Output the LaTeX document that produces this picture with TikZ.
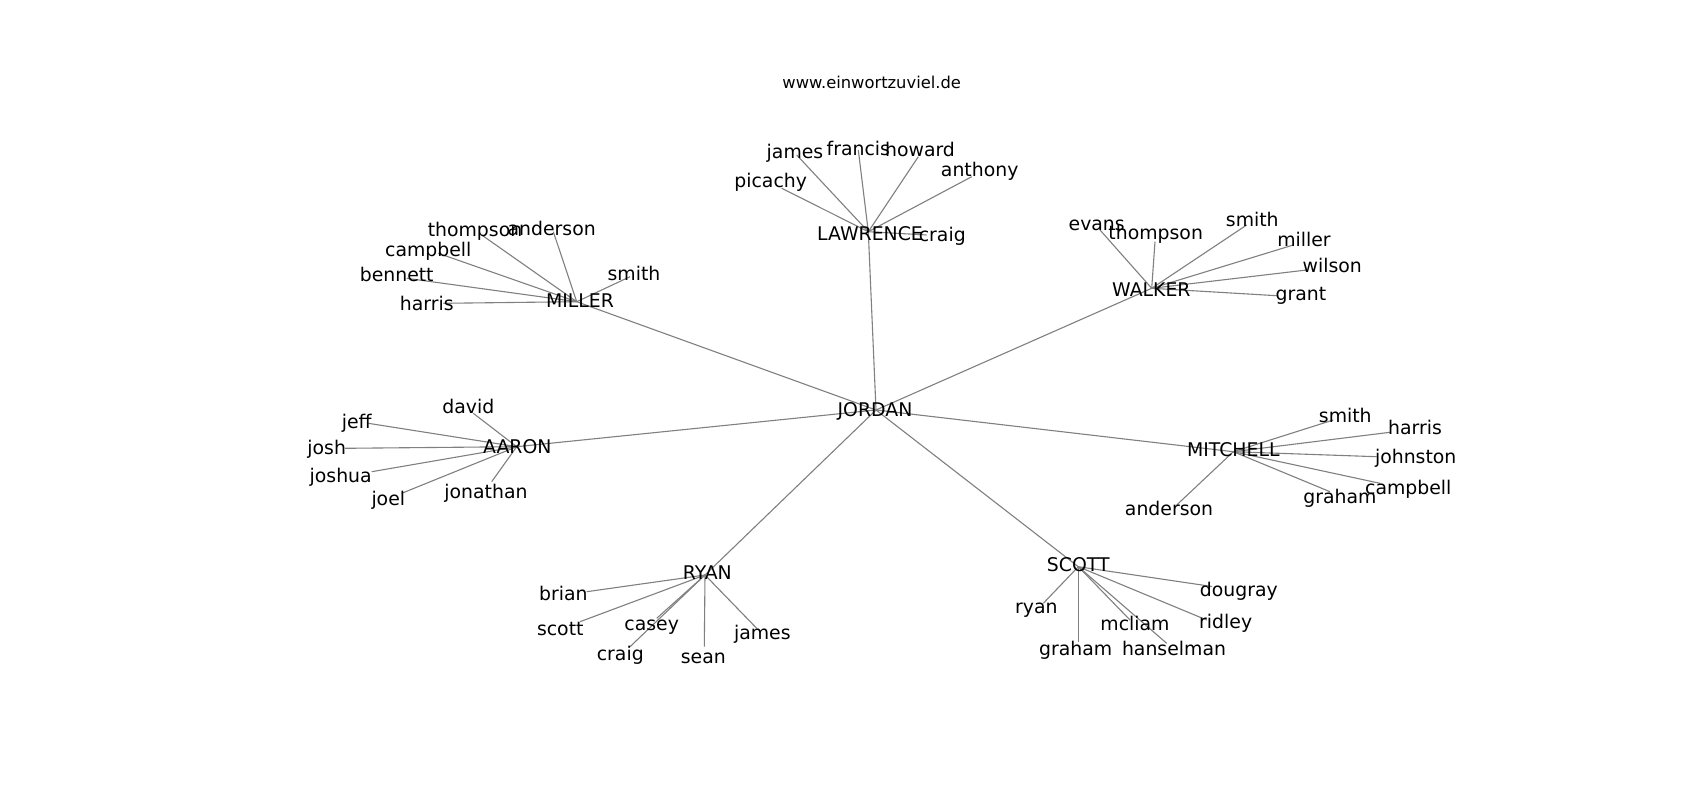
\documentclass[tikz,border=0pt]{standalone}
\usepackage{fontspec}
\setmainfont{DejaVu Sans}
\definecolor{edgegray}{RGB}{128,128,128}
\tikzset{
  lbl/.style={anchor=base, inner sep=0pt, text=black, font=\fontsize{18.85}{22}\selectfont},
  ttl/.style={anchor=base, inner sep=0pt, text=black, font=\fontsize{16.33}{19}\selectfont},
  edge/.style={draw=edgegray, line width=1.1pt}
}
\begin{document}
\begin{tikzpicture}[x=1pt,y=-1pt]
\useasboundingbox[fill=white] (0,0) rectangle (1700,800);
% hubs
\coordinate (jordan) at (876,410);
\coordinate (miller) at (576.7,301.7);
\coordinate (lawrence) at (868.3,231.7);
\coordinate (walker) at (1151.7,288.3);
\coordinate (aaron) at (516.7,446.7);
\coordinate (mitchell) at (1233.3,451.7);
\coordinate (ryan) at (705,575);
\coordinate (scott) at (1078.3,566.7);
% leaves
\coordinate (mi-thompson) at (481.7,235);
\coordinate (mi-anderson) at (553.3,231.7);
\coordinate (mi-campbell) at (438.3,253.3);
\coordinate (mi-bennett) at (406.7,278.3);
\coordinate (mi-harris) at (443.3,303.3);
\coordinate (mi-smith) at (630,276.7);
\coordinate (la-james) at (796.7,155);
\coordinate (la-francis) at (858.3,150);
\coordinate (la-howard) at (918.3,156.7);
\coordinate (la-anthony) at (971.7,176.7);
\coordinate (la-picachy) at (781.7,188.3);
\coordinate (la-craig) at (926.7,235);
\coordinate (wa-evans) at (1100,230);
\coordinate (wa-thompson) at (1155,241.7);
\coordinate (wa-smith) at (1246.7,225);
\coordinate (wa-miller) at (1293.3,245);
\coordinate (wa-wilson) at (1306.7,270);
\coordinate (wa-grant) at (1276.7,295.7);
\coordinate (aa-david) at (473.3,413.3);
\coordinate (aa-jeff) at (368.3,423.3);
\coordinate (aa-josh) at (345,448.3);
\coordinate (aa-joshua) at (371.7,471.7);
\coordinate (aa-joel) at (401.7,493.3);
\coordinate (aa-jonathan) at (491.7,481.7);
\coordinate (mt-smith) at (1333.3,420);
\coordinate (mt-harris) at (1390,432.3);
\coordinate (mt-johnston) at (1376.7,456.7);
\coordinate (mt-campbell) at (1380,483.3);
\coordinate (mt-graham) at (1330,491.7);
\coordinate (mt-anderson) at (1176.7,505);
\coordinate (ry-brian) at (586.7,591.7);
\coordinate (ry-scott) at (580,621.7);
\coordinate (ry-casey) at (656.7,618.3);
\coordinate (ry-craig) at (630,646.7);
\coordinate (ry-sean) at (704.3,646.7);
\coordinate (ry-james) at (756.7,628.3);
\coordinate (sc-dougray) at (1212,586.5);
\coordinate (sc-ryan) at (1043.3,603.3);
\coordinate (sc-mcliam) at (1130,620);
\coordinate (sc-ridley) at (1206.7,620);
\coordinate (sc-graham) at (1078.3,641.7);
\coordinate (sc-hanselman) at (1166.7,643.3);
% edges
\foreach \h in {miller,lawrence,walker,aaron,mitchell,ryan,scott}
  \draw[edge] (jordan) -- (\h);
\foreach \c in {thompson,anderson,campbell,bennett,harris,smith}
  \draw[edge] (miller) -- (mi-\c);
\foreach \c in {james,francis,howard,anthony,picachy,craig}
  \draw[edge] (lawrence) -- (la-\c);
\foreach \c in {evans,thompson,smith,miller,wilson,grant}
  \draw[edge] (walker) -- (wa-\c);
\foreach \c in {david,jeff,josh,joshua,joel,jonathan}
  \draw[edge] (aaron) -- (aa-\c);
\foreach \c in {smith,harris,johnston,campbell,graham,anderson}
  \draw[edge] (mitchell) -- (mt-\c);
\foreach \c in {brian,scott,casey,craig,sean,james}
  \draw[edge] (ryan) -- (ry-\c);
\foreach \c in {dougray,ryan,mcliam,ridley,graham,hanselman}
  \draw[edge] (scott) -- (sc-\c);
% title
\node[ttl] (title) at (871.7,88.3) {www.einwortzuviel.de};
% hub labels
\node[lbl] (l-jordan) at (875,416.7) {JORDAN};
\node[lbl] (l-miller) at (580,307.3) {MILLER};
\node[lbl] (l-lawrence) at (870,240) {LAWRENCE};
\node[lbl] (l-walker) at (1151.3,296.7) {WALKER};
\node[lbl] (l-aaron) at (517.3,453.3) {AARON};
\node[lbl] (l-mitchell) at (1233.3,456) {MITCHELL};
\node[lbl] (l-ryan) at (707.3,579.3) {RYAN};
\node[lbl] (l-scott) at (1078.3,571.7) {SCOTT};
% leaf labels
\node[lbl] (l-mi-thompson) at (475,236.7) {thompson};
\node[lbl] (l-mi-anderson) at (551.7,235) {anderson};
\node[lbl] (l-mi-campbell) at (428.3,256) {campbell};
\node[lbl] (l-mi-bennett) at (396.7,281.7) {bennett};
\node[lbl] (l-mi-harris) at (426.7,310) {harris};
\node[lbl] (l-mi-smith) at (634,280) {smith};
\node[lbl] (l-la-james) at (795,158.3) {james};
\node[lbl] (l-la-francis) at (858.3,155) {francis};
\node[lbl] (l-la-howard) at (920,156.7) {howard};
\node[lbl] (l-la-anthony) at (979.7,176.7) {anthony};
\node[lbl] (l-la-picachy) at (770.7,187.3) {picachy};
\node[lbl] (l-la-craig) at (942.3,241.7) {craig};
\node[lbl] (l-wa-evans) at (1096.7,230) {evans};
\node[lbl] (l-wa-thompson) at (1155.7,239.3) {thompson};
\node[lbl] (l-wa-smith) at (1252.3,226) {smith};
\node[lbl] (l-wa-miller) at (1304,246) {miller};
\node[lbl] (l-wa-wilson) at (1332.3,272.7) {wilson};
\node[lbl] (l-wa-grant) at (1301,300.7) {grant};
\node[lbl] (l-aa-david) at (468.3,413.3) {david};
\node[lbl] (l-aa-jeff) at (356.7,428.3) {jeff};
\node[lbl] (l-aa-josh) at (326.7,454.3) {josh};
\node[lbl] (l-aa-joshua) at (340.7,482.3) {joshua};
\node[lbl] (l-aa-joel) at (388.3,505) {joel};
\node[lbl] (l-aa-jonathan) at (486,498.3) {jonathan};
\node[lbl] (l-mt-smith) at (1345.3,422.3) {smith};
\node[lbl] (l-mt-harris) at (1415,434.3) {harris};
\node[lbl] (l-mt-johnston) at (1415.7,463.3) {johnston};
\node[lbl] (l-mt-campbell) at (1408.3,494) {campbell};
\node[lbl] (l-mt-graham) at (1340,503.3) {graham};
\node[lbl] (l-mt-anderson) at (1169,515) {anderson};
\node[lbl] (l-ry-brian) at (563.3,600.7) {brian};
\node[lbl] (l-ry-scott) at (560.3,635) {scott};
\node[lbl] (l-ry-casey) at (651.7,630) {casey};
\node[lbl] (l-ry-craig) at (620.3,660) {craig};
\node[lbl] (l-ry-sean) at (703.3,663.3) {sean};
\node[lbl] (l-ry-james) at (762.3,639.3) {james};
\node[lbl] (l-sc-dougray) at (1238.8,596.7) {dougray};
\node[lbl] (l-sc-ryan) at (1036.3,613.3) {ryan};
\node[lbl] (l-sc-mcliam) at (1135,630) {mcliam};
\node[lbl] (l-sc-ridley) at (1225.7,628.3) {ridley};
\node[lbl] (l-sc-graham) at (1075.7,655) {graham};
\node[lbl] (l-sc-hanselman) at (1174,655) {hanselman};
\end{tikzpicture}
\end{document}
